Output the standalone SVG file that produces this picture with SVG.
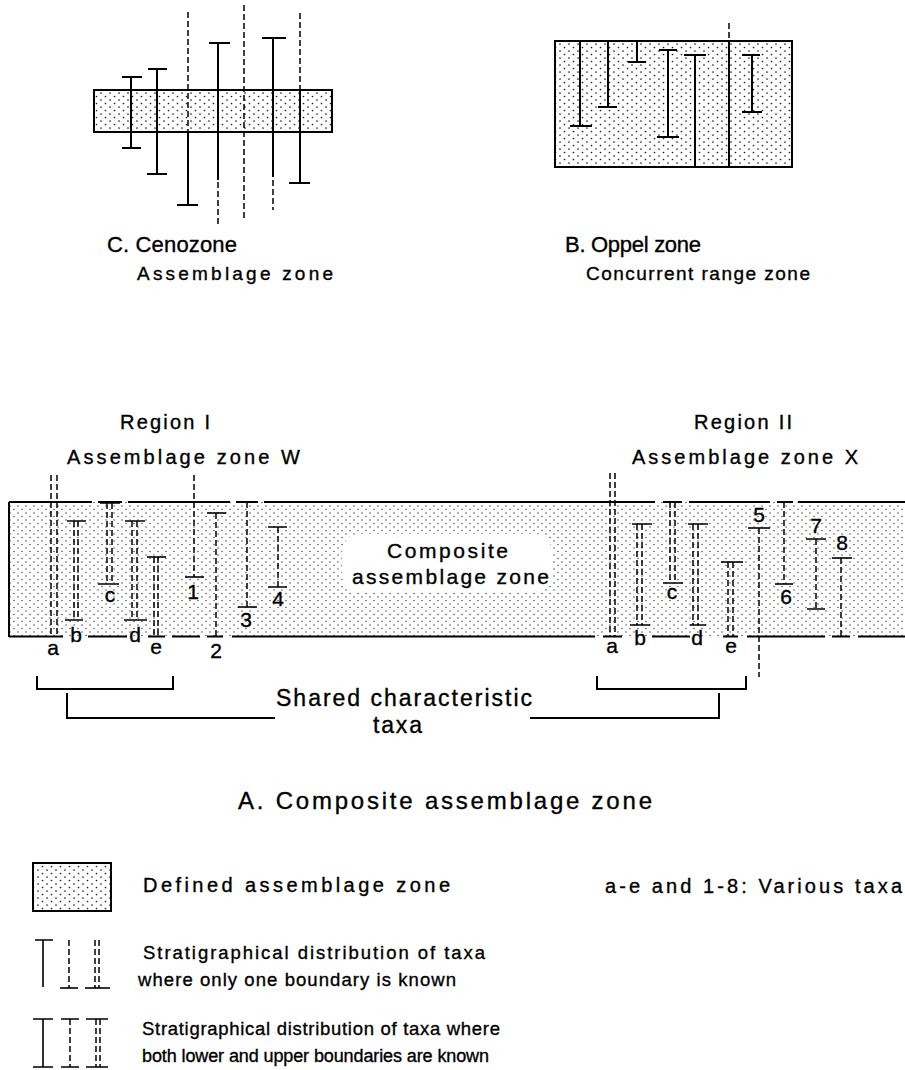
<svg xmlns="http://www.w3.org/2000/svg" width="905" height="1070" viewBox="0 0 905 1070">
<defs>
<pattern id="dotsA" width="9" height="7" patternUnits="userSpaceOnUse"><circle cx="2" cy="2" r="0.85" fill="#222"/><circle cx="6.5" cy="5.5" r="0.85" fill="#222"/></pattern>
<pattern id="dotsB" width="8" height="7" patternUnits="userSpaceOnUse"><circle cx="2" cy="2" r="0.7" fill="#333"/><circle cx="6" cy="5.5" r="0.7" fill="#333"/></pattern>
<style>
.s{stroke:#000;stroke-width:2;fill:none}
.t{stroke:#000;stroke-width:1.6;fill:none}
.d{stroke:#000;stroke-width:1.5;fill:none;stroke-dasharray:6 3}
.fa{fill:url(#dotsA);stroke:none}
.txt{font-family:"Liberation Sans",Arial,sans-serif;fill:#000;stroke:#000;stroke-width:0.35}
.lab{font-family:"Liberation Sans",Arial,sans-serif;font-size:21px;fill:#000;stroke:#000;stroke-width:0.35;text-anchor:middle}
</style>
</defs>
<rect width="905" height="1070" fill="#fff"/>

<g id="cenozone">
<rect class="fa" x="94" y="90" width="238" height="42"/>
<rect class="s" x="94" y="90" width="238" height="42"/>
<line class="s" x1="131" y1="77" x2="131" y2="148"/><line class="s" x1="122" y1="77" x2="142" y2="77"/><line class="s" x1="122" y1="148" x2="141" y2="148"/>
<line class="s" x1="157" y1="69" x2="157" y2="174"/><line class="s" x1="148" y1="69" x2="167" y2="69"/><line class="s" x1="147" y1="174" x2="167" y2="174"/>
<line class="d" x1="188" y1="12" x2="188" y2="132"/><line class="s" x1="188" y1="132" x2="188" y2="205"/><line class="s" x1="177" y1="205" x2="198" y2="205"/>
<line class="s" x1="218" y1="43" x2="218" y2="180"/><line class="s" x1="209" y1="43" x2="230" y2="43"/><line class="d" x1="218" y1="182" x2="218" y2="224"/>
<line class="d" x1="244" y1="5" x2="244" y2="218"/>
<line class="s" x1="273" y1="38" x2="273" y2="177"/><line class="s" x1="262" y1="38" x2="286" y2="38"/><line class="d" x1="273" y1="180" x2="273" y2="210"/>
<line class="d" x1="300" y1="13" x2="300" y2="90"/><line class="s" x1="300" y1="90" x2="300" y2="183"/><line class="s" x1="289" y1="183" x2="310" y2="183"/>
<text class="txt" x="107" y="252" font-size="22" textLength="130" lengthAdjust="spacing">C. Cenozone</text>
<text class="txt" x="137" y="280" font-size="19" textLength="196" lengthAdjust="spacing">Assemblage zone</text>
</g>

<g id="oppel">
<rect class="fa" x="555" y="41" width="237" height="126"/>
<rect class="s" x="555" y="41" width="237" height="126"/>
<line class="s" x1="580" y1="41" x2="580" y2="126"/><line class="s" x1="572" y1="41" x2="592" y2="41"/><line class="s" x1="570" y1="126" x2="592" y2="126"/>
<line class="s" x1="608" y1="41" x2="608" y2="107"/><line class="s" x1="598" y1="41" x2="617" y2="41"/><line class="s" x1="598" y1="107" x2="617" y2="107"/>
<line class="s" x1="637" y1="41" x2="637" y2="62"/><line class="s" x1="628" y1="41" x2="646" y2="41"/><line class="s" x1="628" y1="62" x2="646" y2="62"/>
<line class="s" x1="668" y1="50" x2="668" y2="137"/><line class="s" x1="659" y1="50" x2="677" y2="50"/><line class="s" x1="657" y1="137" x2="679" y2="137"/>
<line class="s" x1="695" y1="55" x2="695" y2="167"/><line class="s" x1="684" y1="55" x2="706" y2="55"/>
<line class="d" x1="729" y1="23" x2="729" y2="41"/><line class="s" x1="729" y1="41" x2="729" y2="167"/>
<line class="s" x1="752" y1="55" x2="752" y2="112"/><line class="s" x1="742" y1="55" x2="760" y2="55"/><line class="s" x1="742" y1="112" x2="762" y2="112"/>
<text class="txt" x="565" y="252" font-size="22" textLength="136" lengthAdjust="spacing">B. Oppel zone</text>
<text class="txt" x="586" y="280" font-size="19" textLength="224" lengthAdjust="spacing">Concurrent range zone</text>
</g>

<g id="composite">
<text class="txt" x="120" y="429" font-size="20" textLength="90" lengthAdjust="spacing">Region I</text>
<text class="txt" x="67" y="464" font-size="20" textLength="233" lengthAdjust="spacing">Assemblage zone W</text>
<text class="txt" x="694" y="429" font-size="20" textLength="98" lengthAdjust="spacing">Region II</text>
<text class="txt" x="632" y="464" font-size="20" textLength="226" lengthAdjust="spacing">Assemblage zone X</text>
<rect x="9" y="502" width="896" height="134" fill="url(#dotsB)"/>
<rect x="342" y="534" width="210" height="58" rx="18" fill="#fff"/>
<text class="txt" x="387" y="558" font-size="21" textLength="121" lengthAdjust="spacing">Composite</text>
<text class="txt" x="352" y="584" font-size="21" textLength="197" lengthAdjust="spacing">assemblage zone</text>
<path class="s" d="M9,502V637M9,502H92M98,502H122M128,502H230M236,502H258M264,502H655M663,502H682M689,502H770M777,502H793M798,502H905"/>
<path class="s" d="M9,636.5H63M88,636.5H127M148,636.5H165M172,636.5H200M207,636.5H223M232,636.5H595M603,636.5H622M652,636.5H690M723,636.5H738M747,636.5H825M832,636.5H850M858,636.5H905"/>
</g>

<g id="taxa-region1">
<path class="d" d="M51,475V636M57,475V636"/>
<path class="d" d="M74,521V620M78,521V620"/><path class="t" d="M67,521H86M65,620H83"/>
<path class="d" d="M107,503V584M112,503V584"/><path class="t" d="M100,503H120M98,584H119"/>
<path class="d" d="M132,521V620M137,521V620"/><path class="t" d="M125,521H145M124,620H147"/>
<path class="d" d="M154,557V636M158,557V636"/><path class="t" d="M147,557H166"/>
<path class="d" d="M194,475V577"/><path class="t" d="M185,577H204"/>
<path class="d" d="M216,513V636"/><path class="t" d="M207,513H226"/>
<path class="d" d="M247,502V607"/><path class="t" d="M238,607H257"/>
<path class="d" d="M278,527V587"/><path class="t" d="M268,527H287M268,587H287"/>
<text class="lab" x="53" y="655">a</text>
<text class="lab" x="76" y="642">b</text>
<text class="lab" x="110" y="602">c</text>
<text class="lab" x="135" y="642">d</text>
<text class="lab" x="156" y="654">e</text>
<text class="lab" x="193" y="599">1</text>
<text class="lab" x="216" y="658">2</text>
<text class="lab" x="246" y="627">3</text>
<text class="lab" x="278" y="606">4</text>
</g>

<g id="taxa-region2">
<path class="d" d="M610,473V636M615,473V636"/>
<path class="d" d="M637,524V625M642,524V625"/><path class="t" d="M632,524H652M630,625H650"/>
<path class="d" d="M670,502V583M675,502V583"/><path class="t" d="M663,502H682M663,583H683"/>
<path class="d" d="M693,524V625M698,524V625"/><path class="t" d="M688,524H708M690,625H706"/>
<path class="d" d="M728,562V636M733,562V636"/><path class="t" d="M721,562H743"/>
<path class="d" d="M759,528V677"/><path class="t" d="M748,528H770"/>
<path class="d" d="M784,502V584"/><path class="t" d="M775,584H793"/>
<path class="d" d="M816,539V609"/><path class="t" d="M806,539H826M807,609H825"/>
<path class="d" d="M841,558V636"/><path class="t" d="M832,558H852"/>
<text class="lab" x="612" y="653">a</text>
<text class="lab" x="640" y="645">b</text>
<text class="lab" x="672" y="599">c</text>
<text class="lab" x="697" y="645">d</text>
<text class="lab" x="731" y="653">e</text>
<text class="lab" x="759" y="522">5</text>
<text class="lab" x="786" y="604">6</text>
<text class="lab" x="816" y="533">7</text>
<text class="lab" x="842" y="550">8</text>
</g>

<g id="connectors">
<path class="s" d="M37,676V689H173V676"/>
<path class="s" d="M597,676V689H746V676"/>
<path class="s" d="M67,693V718H275"/>
<path class="s" d="M530,718H719V693"/>
</g>

<g id="shared-label">
<text class="txt" x="276" y="706" font-size="23" textLength="256" lengthAdjust="spacing">Shared characteristic</text>
<text class="txt" x="373" y="733" font-size="23" textLength="49" lengthAdjust="spacing">taxa</text>
</g>

<g id="title-a">
<text class="txt" x="238" y="809" font-size="24" textLength="414" lengthAdjust="spacing">A. Composite assemblage zone</text>
</g>

<g id="legend">
<rect class="fa" x="33" y="863" width="78" height="48"/>
<rect class="s" x="33" y="863" width="78" height="48"/>
<text class="txt" x="143" y="892" font-size="20" textLength="307" lengthAdjust="spacing">Defined assemblage zone</text>
<text class="txt" x="605" y="893" font-size="20" textLength="297" lengthAdjust="spacing">a-e and 1-8: Various taxa</text>
<path class="t" d="M43,940V987M35,940H53"/>
<path class="d" d="M69,940V988"/><path class="t" d="M60,988H78"/>
<path class="d" d="M95,940V988M99,940V988"/><path class="t" d="M85,988H110"/>
<text class="txt" x="143" y="959" font-size="18.5" textLength="342" lengthAdjust="spacing">Stratigraphical distribution of taxa</text>
<text class="txt" x="138" y="986" font-size="18.5" textLength="318" lengthAdjust="spacing">where only one boundary is known</text>
<path class="t" d="M43,1019V1067M33,1019H53M33,1067H53"/>
<path class="d" d="M70,1019V1067"/><path class="t" d="M61,1019H79M61,1067H79"/>
<path class="d" d="M96,1019V1067M100,1019V1067"/><path class="t" d="M86,1019H108M86,1067H108"/>
<text class="txt" x="142" y="1035" font-size="18.5" textLength="358" lengthAdjust="spacing">Stratigraphical distribution of taxa where</text>
<text class="txt" x="142" y="1062" font-size="18" textLength="347" lengthAdjust="spacing">both lower and upper boundaries are known</text>
</g>
</svg>
